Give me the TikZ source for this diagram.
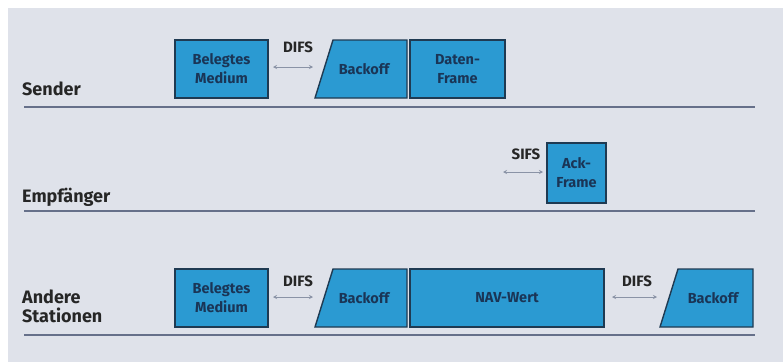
\documentclass[tikz,border=0pt]{standalone}
\usepackage{fontspec}
\setmainfont{Fira Sans}
\usetikzlibrary{arrows.meta}
\definecolor{bg}{HTML}{DFE2EA}
\definecolor{boxfill}{HTML}{2B9AD2}
\definecolor{boxline}{HTML}{1F3A52}
\definecolor{boxtext}{HTML}{1A3556}
\definecolor{tline}{HTML}{66708A}
\definecolor{arrgray}{HTML}{8A93A6}
\tikzset{
  lbl/.style={font=\fontsize{18}{19}\selectfont\bfseries, text=black!85, anchor=west, inner sep=0pt, align=left},
  slot/.style={draw=boxline, line width=1.4pt, fill=boxfill},
  slottext/.style={font=\fontsize{14.5}{19}\selectfont\bfseries, text=boxtext, align=center, inner sep=0pt},
  gap/.style={font=\fontsize{15}{17}\selectfont\bfseries, text=black!85, inner sep=0pt},
  timeline/.style={draw=tline, line width=1.6pt},
  ifs/.style={draw=arrgray, line width=1pt, {Stealth[length=4pt,width=4pt]}-{Stealth[length=4pt,width=4pt]}}
}
\begin{document}
\begin{tikzpicture}[x=1pt,y=-1pt]
\useasboundingbox (0,0) rectangle (783,362);
\fill[white] (0,0) rectangle (783,362);
\fill[bg] (8,8) rectangle (783,362);

% ---------- Sender ----------
\node[lbl] (lsend) at (22,89) {Sender};
\coordinate (s0) at (24,107);
\coordinate (s1) at (755,107);
\draw[timeline] (s0) -- (s1);

\draw[slot] (175,40) rectangle (268,98);
\node[slottext] (sbm) at (221.5,69) {Belegtes\\Medium};
\draw[slot] (315,98) -- (333,40) -- (407,40) -- (407,98) -- cycle;
\node[slottext] (sbo) at (364,69) {Backoff};
\draw[slot] (410,40) rectangle (505,98);
\node[slottext] (sdf) at (457.5,69) {Daten-\\Frame};
\node[gap] (sdifs) at (298,47) {DIFS};
\coordinate (sa0) at (273,67);
\coordinate (sa1) at (313,67);
\draw[ifs] (sa0) -- (sa1);

% ---------- Empfaenger ----------
\node[lbl] (lemp) at (22,197) {Empfänger};
\coordinate (e0) at (24,211);
\coordinate (e1) at (755,211);
\draw[timeline] (e0) -- (e1);

\draw[slot] (547,143) rectangle (606,203);
\node[slottext] (eack) at (576.5,173) {Ack-\\Frame};
\node[gap] (esifs) at (526,154) {SIFS};
\coordinate (ea0) at (503,172);
\coordinate (ea1) at (543,172);
\draw[ifs] (ea0) -- (ea1);

% ---------- Andere Stationen ----------
\node[lbl] (land) at (22,306) {Andere\\Stationen};
\coordinate (a0) at (24,335);
\coordinate (a1) at (755,335);
\draw[timeline] (a0) -- (a1);

\draw[slot] (175,269) rectangle (268,327);
\node[slottext] (abm) at (221.5,298) {Belegtes\\Medium};
\draw[slot] (315,327) -- (333,269) -- (407,269) -- (407,327) -- cycle;
\node[slottext] (abo) at (364,298) {Backoff};
\draw[slot] (410,269) rectangle (604,327);
\node[slottext] (anav) at (507,298) {NAV-Wert};
\node[gap] (adifs1) at (298,281) {DIFS};
\coordinate (aa0) at (273,297);
\coordinate (aa1) at (313,297);
\draw[ifs] (aa0) -- (aa1);
\node[gap] (adifs2) at (637,281) {DIFS};
\coordinate (ab0) at (612,297);
\coordinate (ab1) at (657,297);
\draw[ifs] (ab0) -- (ab1);
\draw[slot] (660,327) -- (678,269) -- (753,269) -- (753,327) -- cycle;
\node[slottext] (abo2) at (713,298) {Backoff};
\end{tikzpicture}
\end{document}
